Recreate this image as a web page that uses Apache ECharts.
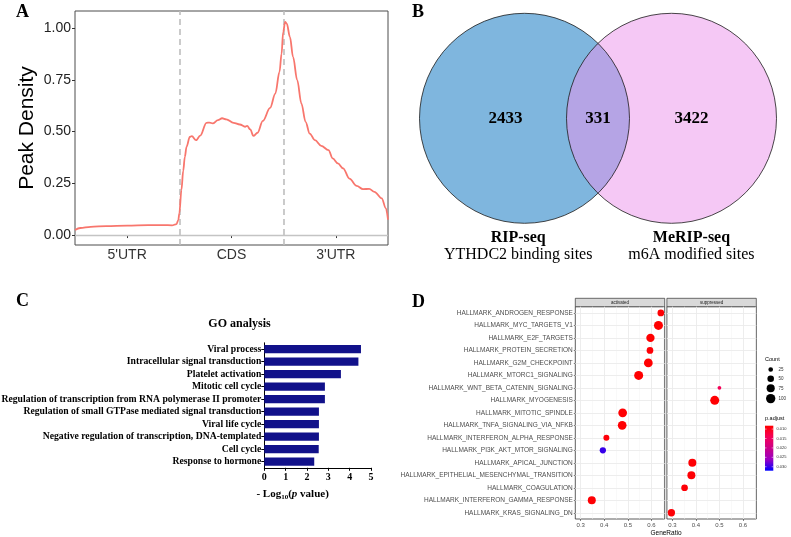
<!DOCTYPE html>
<html>
<head>
<meta charset="utf-8">
<script src="https://cdn.jsdelivr.net/npm/echarts@6/dist/echarts.min.js"></script>
<style>
html,body{margin:0;padding:0;background:#fff}
#main{width:791px;height:537px}
</style>
</head>
<body>
<div id="main"></div>
<script>
var serif = 'Liberation Serif';
var sans = 'Liberation Sans';

// A: peak density along transcript
var regionNames = ["5'UTR", 'CDS', "3'UTR"];
var regionTicks = [0.5, 1.5, 2.5];
var regionBounds = [1, 2];
var densityTicks = [0, 0.25, 0.5, 0.75, 1];
var metaPos = [0, 0.05, 0.15, 0.3, 0.5, 0.7, 0.85, 0.93, 0.973, 0.99, 1.0, 1.02, 1.037, 1.053, 1.069, 1.1, 1.12, 1.16, 1.2, 1.26, 1.29, 1.32, 1.37, 1.41, 1.45, 1.52, 1.58, 1.63, 1.65, 1.68, 1.71, 1.75, 1.8, 1.87, 1.92, 1.96, 1.98, 1.995, 2.014, 2.03, 2.06, 2.09, 2.13, 2.17, 2.21, 2.25, 2.3, 2.36, 2.43, 2.47, 2.52, 2.57, 2.63, 2.7, 2.76, 2.82, 2.87, 2.94, 2.98, 3.0];
var metaDensity = [0.024, 0.034, 0.04, 0.043, 0.046, 0.048, 0.048, 0.047, 0.053, 0.072, 0.105, 0.217, 0.31, 0.378, 0.426, 0.474, 0.478, 0.458, 0.48, 0.542, 0.543, 0.539, 0.555, 0.564, 0.559, 0.542, 0.534, 0.523, 0.527, 0.51, 0.479, 0.494, 0.551, 0.614, 0.683, 0.788, 0.876, 0.98, 1.029, 1.021, 0.957, 0.86, 0.748, 0.635, 0.547, 0.49, 0.458, 0.431, 0.41, 0.37, 0.346, 0.322, 0.273, 0.238, 0.222, 0.223, 0.209, 0.177, 0.129, 0.075];

// B: venn
var vennSets = ['RIP-seq', 'MeRIP-seq'];
var vennDesc = ['YTHDC2 binding sites', 'm6A modified sites'];
var vennCounts = [2433, 331, 3422];

// C: GO analysis
var goTerms = ['Viral process', 'Intracellular signal transduction', 'Platelet activation', 'Mitotic cell cycle',
  'Regulation of transcription from RNA polymerase II promoter', 'Regulation of small GTPase mediated signal transduction',
  'Viral life cycle', 'Negative regulation of transcription, DNA-templated', 'Cell cycle', 'Response to hormone'];
var goLogP = [4.53, 4.41, 3.59, 2.84, 2.84, 2.56, 2.56, 2.56, 2.55, 2.34];

// D: hallmark GSEA dot plot
var hmTerms = ['HALLMARK_ANDROGEN_RESPONSE', 'HALLMARK_MYC_TARGETS_V1', 'HALLMARK_E2F_TARGETS', 'HALLMARK_PROTEIN_SECRETION',
  'HALLMARK_G2M_CHECKPOINT', 'HALLMARK_MTORC1_SIGNALING', 'HALLMARK_WNT_BETA_CATENIN_SIGNALING', 'HALLMARK_MYOGENESIS',
  'HALLMARK_MITOTIC_SPINDLE', 'HALLMARK_TNFA_SIGNALING_VIA_NFKB', 'HALLMARK_INTERFERON_ALPHA_RESPONSE', 'HALLMARK_PI3K_AKT_MTOR_SIGNALING',
  'HALLMARK_APICAL_JUNCTION', 'HALLMARK_EPITHELIAL_MESENCHYMAL_TRANSITION', 'HALLMARK_COAGULATION', 'HALLMARK_INTERFERON_GAMMA_RESPONSE',
  'HALLMARK_KRAS_SIGNALING_DN'];
var hmFacet = ['activated', 'activated', 'activated', 'activated', 'activated', 'activated', 'suppressed', 'suppressed',
  'activated', 'activated', 'activated', 'activated', 'suppressed', 'suppressed', 'suppressed', 'activated', 'suppressed'];
var hmRatio = [0.640, 0.630, 0.596, 0.594, 0.587, 0.546, 0.500, 0.480, 0.478, 0.476, 0.409, 0.394, 0.385, 0.381, 0.352, 0.347, 0.296];
var hmCount = [51, 93, 79, 51, 87, 93, 16, 93, 87, 87, 41, 45, 73, 73, 51, 73, 61];
var hmPadj = [0.0085, 0.0083, 0.0083, 0.0086, 0.0083, 0.0083, 0.014, 0.0084, 0.0084, 0.0084, 0.0088, 0.030, 0.0085, 0.0085, 0.0087, 0.0085, 0.0086];
var facets = ['activated', 'suppressed'];
var ratioTicks = [0.3, 0.4, 0.5, 0.6];
var ratioMinor = [0.35, 0.45, 0.55, 0.65];
var countBreaks = [25, 50, 75, 100];
var padjBreaks = [0.010, 0.015, 0.020, 0.025, 0.030];

var padjMin = 0.0082, padjMax = 0.0321;
var padjColors = ['#FF0000', '#F50059', '#CA0088', '#9A00C3', '#0000FF'];
function dotSize(c) { return 0.935 * Math.sqrt(c); }

function facetData(f) {
  var out = [];
  hmTerms.forEach(function (t, i) {
    if (hmFacet[i] === f) out.push([hmRatio[i], i, hmCount[i], hmPadj[i]]);
  });
  return out;
}
function facetGrid() {
  var d = [];
  ratioTicks.forEach(function (v) { d.push({ xAxis: v, lineStyle: { color: '#EBEBEB', width: 0.9, type: 'solid' } }); });
  ratioMinor.forEach(function (v) { d.push({ xAxis: v, lineStyle: { color: '#F3F3F3', width: 0.5, type: 'solid' } }); });
  hmTerms.forEach(function (t, i) { d.push({ yAxis: i, lineStyle: { color: '#EBEBEB', width: 0.9, type: 'solid' } }); });
  return d;
}

var ec = echarts.init(document.getElementById('main'));

var dGrid = { top: 306.7, height: 212.3, width: 89.4 };
var dLeft = [575.3, 666.9];

function txt(x, y, s, size, opts) {
  opts = opts || {};
  return {
    type: 'text', x: x, y: y, silent: true,
    style: {
      text: s, fontSize: size, fontFamily: opts.family || sans, fontWeight: opts.weight || 'normal',
      fill: opts.color || '#000', align: opts.align || 'left', verticalAlign: 'middle',
      textAlign: opts.align || 'left', textVerticalAlign: 'middle'
    }
  };
}

var graphics = [
  txt(16, 12.5, 'A', 18, { family: serif, weight: 'bold' }),
  txt(412, 12.5, 'B', 18, { family: serif, weight: 'bold' }),
  txt(16, 301, 'C', 18, { family: serif, weight: 'bold' }),
  txt(412, 302.5, 'D', 18, { family: serif, weight: 'bold' }),
  txt(239.5, 324, 'GO analysis', 12, { family: serif, weight: 'bold', align: 'center' }),
  txt(666, 533.3, 'GeneRatio', 6.5, { align: 'center', color: '#000' }),
  txt(765, 359, 'Count', 5.5),
  txt(765, 418.7, 'p.adjust', 5.5)
];
facets.forEach(function (f, i) {
  graphics.push({ type: 'rect', silent: true, shape: { x: dLeft[i], y: 298.3, width: dGrid.width, height: 8.4 },
    style: { fill: '#D9D9D9', stroke: '#333', lineWidth: 0.7 } });
  graphics.push(txt(dLeft[i] + dGrid.width / 2, 302.5, f, 4.5, { align: 'center', color: '#1a1a1a' }));
});
var countY = [369.5, 378.7, 388.3, 398.6];
countBreaks.forEach(function (c, i) {
  graphics.push({ type: 'circle', silent: true, shape: { cx: 770.7, cy: countY[i], r: dotSize(c) / 2 }, style: { fill: '#000' } });
  graphics.push(txt(778.5, countY[i], String(c), 4.5, { color: '#333' }));
});
var barTop = 425.7, barH = 45;
graphics.push({ type: 'rect', silent: true, shape: { x: 765, y: barTop, width: 8.3, height: barH },
  style: { fill: new echarts.graphic.LinearGradient(0, 0, 0, 1, padjColors.map(function (c, i) {
    return { offset: i / (padjColors.length - 1), color: c };
  })) } });
padjBreaks.forEach(function (v) {
  var y = barTop + (v - padjMin) / (padjMax - padjMin) * barH;
  graphics.push({ type: 'line', silent: true, shape: { x1: 765, y1: y, x2: 766.6, y2: y }, style: { stroke: '#fff', lineWidth: 0.5 } });
  graphics.push({ type: 'line', silent: true, shape: { x1: 771.7, y1: y, x2: 773.3, y2: y }, style: { stroke: '#fff', lineWidth: 0.5 } });
  graphics.push(txt(776.5, y, v.toFixed(3), 4, { color: '#333' }));
});

var vennX = [0, 1.4];
var vennCountX = [-0.18, 0.7, 1.59];
var vennLabelX = [-0.06, 1.59];
var vennFill = ['#7FB6DE', 'rgba(235,145,235,0.5)'];

var option = {
  animation: false,
  backgroundColor: '#fff',
  textStyle: { fontFamily: sans },
  graphic: { elements: graphics },
  grid: [
    { left: 75, top: 11, width: 313, height: 234, show: true, borderColor: '#4d4d4d', borderWidth: 1, backgroundColor: '#fff', outerBoundsMode: 'none' },
    { left: 419.5, top: 13.3, width: 357, height: 210, outerBoundsMode: 'none' },
    { left: 264.3, top: 342.8, width: 106.7, height: 125, outerBoundsMode: 'none' },
    { left: dLeft[0], top: dGrid.top, width: dGrid.width, height: dGrid.height, show: true, borderColor: '#333', borderWidth: 0.8, outerBoundsMode: 'none' },
    { left: dLeft[1], top: dGrid.top, width: dGrid.width, height: dGrid.height, show: true, borderColor: '#333', borderWidth: 0.8, outerBoundsMode: 'none' }
  ],
  xAxis: [
    { gridIndex: 0, type: 'value', min: 0, max: 3,
      axisLine: { show: false }, splitLine: { show: false },
      axisTick: { show: true, customValues: regionTicks, length: 3, lineStyle: { color: '#333' } },
      axisLabel: { customValues: regionTicks, margin: 3, fontSize: 14, color: '#333', fontFamily: sans,
        formatter: function (v) { return regionNames[Math.round(v - 0.5)]; } } },
    { gridIndex: 1, type: 'value', min: -1, max: 2.4, show: false },
    { gridIndex: 2, type: 'value', min: 0, max: 5, interval: 1,
      axisLine: { show: true, lineStyle: { color: '#000', width: 1 } },
      axisTick: { show: true, length: 3, lineStyle: { color: '#000' } },
      splitLine: { show: false },
      axisLabel: { margin: 5, fontSize: 10, fontWeight: 'bold', fontFamily: serif, color: '#000' },
      name: '{a|- Log}{s|10}{a|(}{i|p}{a| value)}', nameLocation: 'middle', nameGap: 19, nameMoveOverlap: false,
      nameTextStyle: { padding: [0, 50, 0, 0], rich: {
        a: { fontSize: 11, fontWeight: 'bold', fontFamily: serif, color: '#000', lineHeight: 14 },
        s: { fontSize: 7, fontWeight: 'bold', fontFamily: serif, color: '#000', lineHeight: 7, verticalAlign: 'bottom' },
        i: { fontSize: 11, fontWeight: 'bold', fontStyle: 'italic', fontFamily: serif, color: '#000', lineHeight: 14 } } } },
    { gridIndex: 3, type: 'value', min: 0.277, max: 0.6565,
      axisLine: { show: false }, splitLine: { show: false },
      axisTick: { show: true, customValues: ratioTicks, length: 2, lineStyle: { color: '#333', width: 0.6 } },
      axisLabel: { customValues: ratioTicks, margin: 3, fontSize: 6, color: '#4d4d4d',
        formatter: function (v) { return v.toFixed(1); } } },
    { gridIndex: 4, type: 'value', min: 0.277, max: 0.6565,
      axisLine: { show: false }, splitLine: { show: false },
      axisTick: { show: true, customValues: ratioTicks, length: 2, lineStyle: { color: '#333', width: 0.6 } },
      axisLabel: { customValues: ratioTicks, margin: 3, fontSize: 6, color: '#4d4d4d',
        formatter: function (v) { return v.toFixed(1); } } }
  ],
  yAxis: [
    { gridIndex: 0, type: 'value', min: -0.048, max: 1.082,
      axisLine: { show: false }, splitLine: { show: false },
      axisTick: { show: true, customValues: densityTicks, length: 3, lineStyle: { color: '#333' } },
      axisLabel: { customValues: densityTicks, margin: 4, fontSize: 14, color: '#222',
        formatter: function (v) { return v.toFixed(2); } },
      name: 'Peak Density', nameLocation: 'middle', nameGap: 37, nameMoveOverlap: false,
      nameTextStyle: { fontSize: 21, color: '#000', fontFamily: sans } },
    { gridIndex: 1, type: 'value', min: -1, max: 1, show: false },
    { gridIndex: 2, type: 'category', data: goTerms, inverse: true,
      axisLine: { show: true, lineStyle: { color: '#000', width: 1 } },
      axisTick: { show: true, alignWithLabel: true, length: 3, lineStyle: { color: '#000' } },
      axisLabel: { interval: 0, margin: 3, fontSize: 9.7, fontWeight: 'bold', fontFamily: serif, color: '#000' } },
    { gridIndex: 3, type: 'category', data: hmTerms, inverse: true,
      axisLine: { show: false }, splitLine: { show: false },
      axisTick: { show: true, alignWithLabel: true, length: 1.5, lineStyle: { color: '#333', width: 0.6 } },
      axisLabel: { interval: 0, margin: 2.5, fontSize: 6.5, color: '#4d4d4d' } },
    { gridIndex: 4, type: 'category', data: hmTerms, inverse: true,
      axisLine: { show: false }, splitLine: { show: false }, axisTick: { show: false }, axisLabel: { show: false } }
  ],
  visualMap: {
    type: 'continuous', show: false, dimension: 3, seriesIndex: [4, 5],
    min: padjMin, max: padjMax, inRange: { color: padjColors }
  },
  series: [
    { type: 'line', xAxisIndex: 0, yAxisIndex: 0, z: 3,
      data: metaPos.map(function (x, i) { return [x, metaDensity[i]]; }),
      smooth: 0.35, smoothMonotone: 'x', showSymbol: false, symbol: 'none',
      lineStyle: { color: '#F8766D', width: 1.8 },
      markLine: { silent: true, z: 2, symbol: 'none', label: { show: false },
        data: regionBounds.map(function (b) { return { xAxis: b, lineStyle: { color: '#BEBEBE', width: 1.6, type: [6, 4] } }; })
          .concat([{ yAxis: 0, lineStyle: { color: '#C4C4C4', width: 1.4, type: 'solid' } }]) } },
    { type: 'custom', xAxisIndex: 1, yAxisIndex: 1, silent: true,
      data: vennSets.map(function (s, i) { return [i]; }),
      renderItem: function (params, api) {
        var i = params.dataIndex;
        var c = api.coord([vennX[i], 0]);
        var r = api.size([1, 1])[0];
        var els = [{ type: 'circle', shape: { cx: c[0], cy: c[1], r: r }, style: { fill: vennFill[i] } }];
        if (i === vennSets.length - 1) {
          vennX.forEach(function (vx) {
            var cc = api.coord([vx, 0]);
            els.push({ type: 'circle', shape: { cx: cc[0], cy: cc[1], r: r }, style: { fill: 'none', stroke: '#1a1a1a', lineWidth: 0.8 } });
          });
        }
        var lp = api.coord([vennLabelX[i], -1.14]);
        var dp = api.coord([vennLabelX[i], -1.30]);
        els.push({ type: 'text', x: lp[0], y: lp[1], style: { text: vennSets[i], fontSize: 16, fontWeight: 'bold', fontFamily: serif, fill: '#000', align: 'center', verticalAlign: 'middle', textAlign: 'center', textVerticalAlign: 'middle' } });
        els.push({ type: 'text', x: dp[0], y: dp[1], style: { text: vennDesc[i], fontSize: 16, fontFamily: serif, fill: '#000', align: 'center', verticalAlign: 'middle', textAlign: 'center', textVerticalAlign: 'middle' } });
        return { type: 'group', children: els };
      },
      clip: false },
    { type: 'custom', xAxisIndex: 1, yAxisIndex: 1, silent: true, z: 5,
      data: vennCounts.map(function (v, i) { return [vennCountX[i], 0, v]; }),
      renderItem: function (params, api) {
        var p = api.coord([api.value(0), api.value(1)]);
        return { type: 'text', x: p[0], y: p[1], style: { text: String(api.value(2)), fontSize: 17, fontWeight: 'bold', fontFamily: serif, fill: '#000', align: 'center', verticalAlign: 'middle', textAlign: 'center', textVerticalAlign: 'middle' } };
      } },
    { type: 'bar', xAxisIndex: 2, yAxisIndex: 2, data: goLogP, barWidth: 8.3,
      itemStyle: { color: '#11118A' } },
    { type: 'scatter', xAxisIndex: 3, yAxisIndex: 3, z: 3, data: facetData('activated'),
      symbolSize: function (v) { return dotSize(v[2]); }, itemStyle: { opacity: 1 },
      markLine: { silent: true, z: 1, symbol: 'none', label: { show: false }, data: facetGrid() } },
    { type: 'scatter', xAxisIndex: 4, yAxisIndex: 4, z: 3, data: facetData('suppressed'),
      symbolSize: function (v) { return dotSize(v[2]); }, itemStyle: { opacity: 1 },
      markLine: { silent: true, z: 1, symbol: 'none', label: { show: false }, data: facetGrid() } }
  ]
};
ec.setOption(option);
</script>
</body>
</html>
